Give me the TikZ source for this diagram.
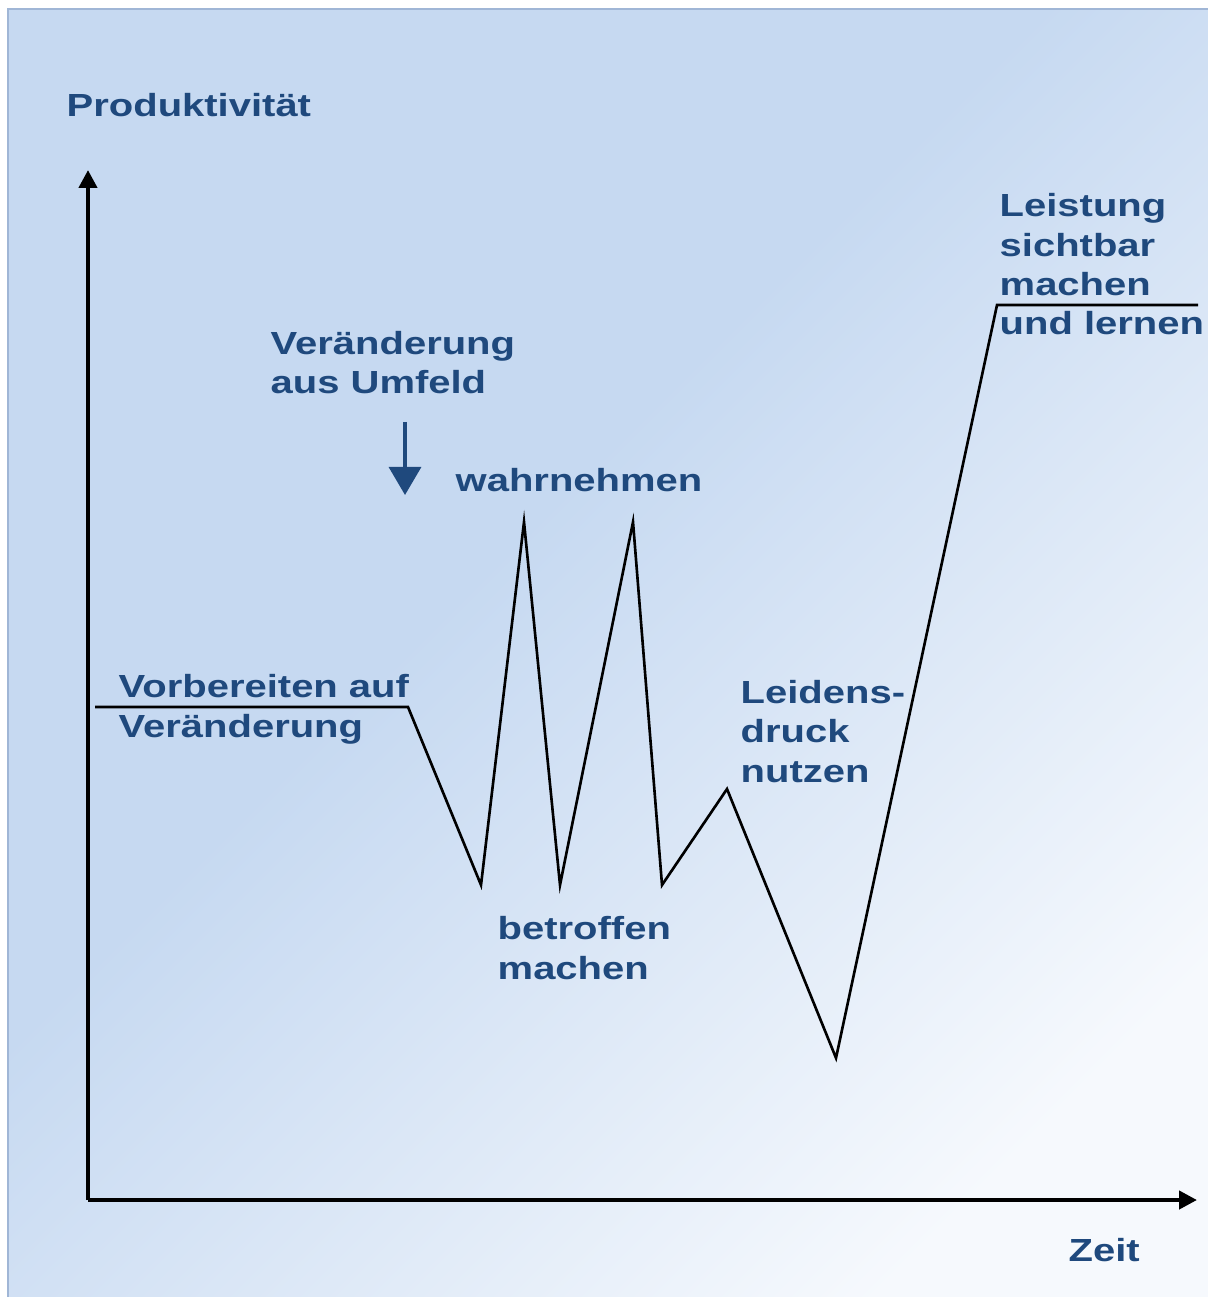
\documentclass[tikz,border=0pt]{standalone}
\usepackage{fontspec}
\setmainfont{Liberation Sans}[FakeStretch=1.25]
\usetikzlibrary{arrows.meta}
\definecolor{txtblue}{RGB}{31,73,125}
\definecolor{bgblue}{RGB}{198,217,241}
\definecolor{bgwhite}{RGB}{246,249,253}
\definecolor{bgframe}{RGB}{160,182,214}
\pgfdeclarehorizontalshading{bgfade}{100bp}{color(0bp)=(bgblue); color(44bp)=(bgblue); color(76bp)=(bgwhite); color(100bp)=(bgwhite)}
\begin{document}
\begin{tikzpicture}[x=1cm,y=-1cm,
    lbl/.style={anchor=base west,inner sep=0pt,align=left,text=txtblue,
      font=\fontsize{9.1pt}{11.2pt}\selectfont\bfseries},
    axis/.style={line width=1.2pt,-{Triangle[length=0.18cm,width=0.18cm]}},
    curve/.style={line width=0.75pt,line join=miter}]
  \useasboundingbox (0,0) rectangle (12.07,12.97);
  \shade[shading=bgfade,shading angle=-45] (0.08,0.09) rectangle (12.10,13.00);
  \draw[bgframe,line width=0.4pt] (0.08,13.00) -- (0.08,0.09) -- (12.10,0.09);
  % axes
  \coordinate (origin) at (0.88,12.00);
  \coordinate (ytip) at (0.88,1.70);
  \coordinate (xtip) at (11.97,12.00);
  \draw[axis] (origin) -- (ytip);
  \draw[axis] (origin) -- (xtip);
  \node[lbl] (prod) at (0.66,1.17) {Produktivität};
  \node[lbl] (zeit) at (10.68,12.61) {Zeit};
  % productivity curve
  \draw[curve] (0.95,7.07) -- (4.08,7.07) -- (4.81,8.85) -- (5.24,5.22)
    -- (5.60,8.85) -- (6.33,5.22) -- (6.62,8.85) -- (7.27,7.89)
    -- (8.36,10.58) -- (9.97,3.05) -- (11.98,3.05);
  % labels (base = last line)
  \node[lbl] (umfeld) at (2.70,3.94) {Veränderung\\aus Umfeld};
  \coordinate (pushtop) at (4.05,4.22);
  \coordinate (pushtip) at (4.05,4.95);
  \draw[txtblue,line width=0.9pt,-{Triangle[length=0.28cm,width=0.32cm]}] (pushtop) -- (pushtip);
  \node[lbl] (wahr) at (4.55,4.92) {wahrnehmen};
  \node[lbl] (vorb) at (1.18,7.37) {Vorbereiten auf\\Veränderung};
  \node[lbl] (leid) at (7.40,7.82) {Leidens-\\druck\\nutzen};
  \node[lbl] (betr) at (4.97,9.79) {betroffen\\machen};
  \node[lbl] (leist) at (9.99,3.35) {Leistung\\sichtbar\\machen\\und lernen};
\end{tikzpicture}
\end{document}
